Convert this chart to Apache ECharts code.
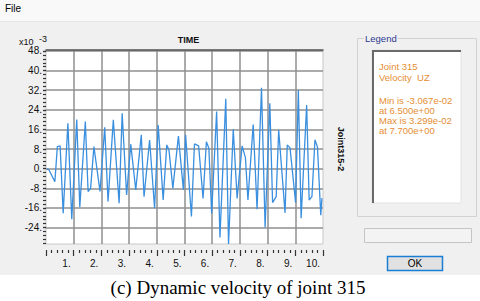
<!DOCTYPE html>
<html><head><meta charset="utf-8">
<script src="https://cdn.jsdelivr.net/npm/echarts@6/dist/echarts.min.js"></script>
<style>html,body{margin:0;padding:0;background:#fff}#c{width:480px;height:301px}</style>
</head><body><div id="c"></div>
<script>
// Time (s) of each vertex of the response curve
const times = [0.03,0.11,0.32,0.41,0.51,0.62,0.79,0.93,1.11,1.22,1.42,1.52,1.61,1.73,1.95,2.12,2.24,2.43,2.64,2.75,2.91,3.06,3.24,3.44,3.54,3.74,3.92,4.05,4.23,4.36,4.44,4.58,4.78,4.96,5.04,5.25,5.36,5.51,5.67,5.79,5.88,5.98,6.16,6.28,6.49,6.59,6.76,6.90,7.08,7.20,7.29,7.48,7.62,7.78,7.91,8.08,8.18,8.31,8.40,8.63,8.71,8.81,9.01,9.11,9.21,9.41,9.50,9.60,9.71,9.80,9.92,9.96];
// Velocity UZ (x10^-3)
const velocity = [0,-0.5,-5.3,9.0,9.3,-18.2,18.5,-20.6,20.1,-15.7,19.2,-9.3,-8.0,9.0,-9.3,16.9,-13.4,19.9,-14.1,22.6,-10.7,10.0,-8.7,13.8,-11.4,11.7,-16.1,17.8,-12.7,9.7,7.6,-8.0,13.3,-8.7,13.8,-19.5,10.1,9.3,-12.1,11.0,8.3,-18.3,23.3,-28.0,28.5,-30.67,16.1,-12.1,9.3,4.5,-12.7,18.0,-16.5,32.99,-24.0,26.7,-13.8,-11.4,15.8,-18.0,9.7,8.5,-13.8,32.1,-20.2,26.0,-12.8,-11.4,11.8,8.8,-19.0,-12];
// Axis ticks
const xTicks = [1,2,3,4,5,6,7,8,9,10];
const yTicks = [-24,-16,-8,0,8,16,24,32,40,48];
const yRange = [-30.7, 48.4];
const xRange = [0, 10];
// Texts
const titleText = 'TIME';
const scaleText = 'x10';
const scaleExp = '-3';
const rightName = 'Joint315-2';
const legendTitle = 'Legend';
const legendLines = ['Joint 315','Velocity  UZ','Min is -3.067e-02','at 6.500e+00','Max is 3.299e-02','at 7.700e+00'];
const captionText = '(c) Dynamic velocity of joint 315';

const chart = echarts.init(document.getElementById('c'), null, {renderer:'svg'});
const data = times.map((t,i)=>[t, velocity[i]]);
// y minor ticks: 5 divisions between major ticks
const yStep = yTicks[1]-yTicks[0];
const yMinor = [];
for (let v = yTicks[0]-yStep; v <= yTicks[yTicks.length-1]+1e-6; v += yStep/5) {
  const r = Math.round(v*100)/100;
  if (r >= yRange[0] && r <= yRange[1]) yMinor.push(r);
}
const sans = 'Liberation Sans, Arial, sans-serif';
const legendY = [66, 77.5, 100.7, 110.7, 120.7, 130.7];

const graphics = [
  {type:'rect', z:-10, shape:{x:0,y:0,width:480,height:275}, style:{fill:'#f0f0f0'}},
  {type:'rect', z:-9, shape:{x:0,y:0,width:480,height:21}, style:{fill:'#f9f9f9'}},
  {type:'line', z:-9, shape:{x1:0,y1:21.5,x2:480,y2:21.5}, style:{stroke:'#e6e6e6',lineWidth:1}},
  {type:'text', x:5, y:8, style:{text:'File', font:'10px '+sans, fill:'#000', verticalAlign:'middle'}},
  {type:'text', x:19, y:42, style:{text:scaleText, font:'9px '+sans, fill:'#111', verticalAlign:'middle'}},
  {type:'text', x:39, y:39, style:{text:scaleExp, font:'9px '+sans, fill:'#111', verticalAlign:'middle'}},
  {type:'text', x:188.5, y:40, style:{text:titleText, font:'bold 9px '+sans, fill:'#111', align:'center', verticalAlign:'middle'}},
  {type:'text', x:341, y:149, rotation:-Math.PI/2, style:{text:rightName, font:'bold 9px '+sans, fill:'#111', align:'center', verticalAlign:'middle'}},
  // legend group box
  {type:'rect', shape:{x:357.5,y:38.5,width:119,height:178}, style:{fill:'none',stroke:'#d2d2d2',lineWidth:1}},
  {type:'text', x:364, y:38.5, style:{text:legendTitle, font:'9.5px '+sans, fill:'#2b3990', verticalAlign:'middle', backgroundColor:'#f0f0f0', padding:[0,1]}},
  {type:'rect', shape:{x:372,y:50,width:89,height:153}, style:{fill:'#fff',stroke:'#e2e2e2',lineWidth:1}},
  {type:'polyline', shape:{points:[[373,203],[373,51],[461,51]]}, style:{fill:'none',stroke:'#6a6a6a',lineWidth:2}},
  // empty field & OK button
  {type:'rect', shape:{x:364.5,y:228.5,width:107,height:14}, style:{fill:'#f3f3f3',stroke:'#c4c4c4',lineWidth:1}},
  {type:'rect', shape:{x:387.5,y:256.5,width:55,height:14}, style:{fill:'#e1e1e1',stroke:'#1a7fd4',lineWidth:1.5}},
  {type:'text', x:415, y:263.5, style:{text:'OK', font:'10px '+sans, fill:'#000', align:'center', verticalAlign:'middle'}},
  {type:'text', x:238, y:287, style:{text:captionText, font:'19px Liberation Serif, Times New Roman, serif', fill:'#000', align:'center', verticalAlign:'middle'}}
];
legendLines.forEach((s,i)=>graphics.push({type:'text', x:379, y:legendY[i], style:{text:s, font:'9.5px '+sans, fill:'#e58e33', verticalAlign:'middle'}}));

chart.setOption({
  animation:false,
  backgroundColor:'transparent',
  grid:{left:46, top:50, right:157, bottom:57, show:true, backgroundColor:'#fff', borderColor:'#c8c8c8', borderWidth:1},
  xAxis:[{
    type:'value', min:xRange[0], max:xRange[1], interval:1, position:'bottom', offset:6,
    axisLine:{show:false, onZero:false},
    axisTick:{show:true, length:6, lineStyle:{color:'#333', width:1.2}},
    minorTick:{show:true, splitNumber:5, length:3, lineStyle:{color:'#333', width:1.2}},
    axisLabel:{formatter:v=> xTicks.includes(v) ? v+'.' : '', color:'#111', fontSize:10, fontFamily:sans, align:'right', padding:[0,3,0,0], margin:8},
    splitLine:{show:true, showMinLine:false, showMaxLine:false, lineStyle:{color:'#8f8f8f', width:1.5}}
  },{
    type:'value', min:xRange[0], max:xRange[1], position:'top',
    axisLine:{show:true, onZero:false, lineStyle:{color:'#555', width:1.5}},
    axisTick:{show:false}, axisLabel:{show:false}, splitLine:{show:false}
  }],
  yAxis:[{
    type:'value', min:yRange[0], max:yRange[1], position:'left',
    axisLine:{show:false, onZero:false},
    axisTick:{show:true, customValues:yTicks, length:3, lineStyle:{color:'#333', width:1.2}},
    axisLabel:{customValues:yTicks, formatter:v=>v+'.', color:'#111', fontSize:10, fontFamily:sans, margin:4},
    splitLine:{show:true, lineStyle:{color:'#8f8f8f', width:1.5}}
  },{
    type:'value', min:yRange[0], max:yRange[1], position:'left',
    axisLine:{show:false, onZero:false},
    axisTick:{show:true, customValues:yMinor, length:3, lineStyle:{color:'#333', width:1.2}},
    axisLabel:{show:false}, splitLine:{show:false}
  }],
  graphic:graphics,
  series:[{
    type:'line', xAxisIndex:0, yAxisIndex:0, data:data, showSymbol:false, symbol:'none',
    lineStyle:{color:'#3a8fdf', width:1.3}, z:3
  }]
});
</script></body></html>
